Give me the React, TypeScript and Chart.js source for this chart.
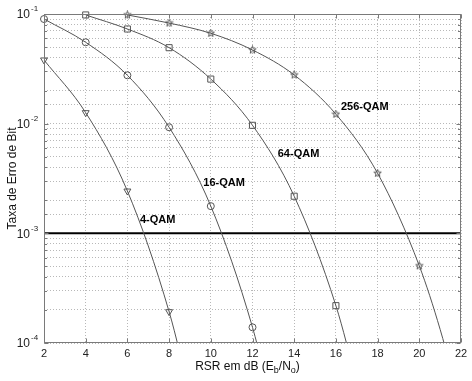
import React, { useEffect, useRef } from 'react';
import { Chart, registerables } from 'chart.js';

Chart.register(...registerables);

// ---- data ----
const snr4 = [2, 4, 6, 8, 9];
const ber4 = [0.0381, 0.0126, 0.00243, 0.000193, 0.000034];

const snr16 = [2, 4, 6, 8, 10, 12, 13];
const ber16 = [0.09, 0.0552, 0.0276, 0.00927, 0.00177, 0.000139, 0.000024];

const snr64 = [4, 6, 8, 10, 12, 14, 16, 17];
const ber64 = [0.098, 0.073, 0.0493, 0.0255, 0.00966, 0.00218, 0.000219, 0.000044];

const snr256 = [6, 8, 10, 12, 14, 16, 18, 20, 21, 22];
const ber256 = [0.098, 0.0827, 0.0667, 0.047, 0.0278, 0.0122, 0.00353, 0.000505, 0.000133, 0.000026];

const thresholdX = [2, 22];
const thresholdY = [1e-3, 1e-3];

const decadeValues = [1e-1, 1e-2, 1e-3, 1e-4];
const decadeExponents = ['-1', '-2', '-3', '-4'];

const curveLabels = ['4-QAM', '16-QAM', '64-QAM', '256-QAM'];
const curveLabelX = [6.6, 9.64, 13.21, 16.24];
const curveLabelY = [1.32e-3, 2.86e-3, 5.26e-3, 0.0143];

const xTitleParts = ['RSR em dB (E', 'b', '/N', 'o', ')'];
const xTitleSub = [false, true, false, true, false];
const yTitle = 'Taxa de Erro de Bit';

const FONT = '"Liberation Sans", Arial, Helvetica, sans-serif';
const CURVE = '#555555';

function toPoints(xs: number[], ys: number[]) {
  return xs.map((x, i) => ({ x, y: ys[i] }));
}
function markerRadii(xs: number[], ys: number[], r: number) {
  return xs.map((x, i) => (x % 2 === 0 && ys[i] >= 1e-4 && x <= 20 ? r : 0));
}

function makePentagram(size: number, color: string) {
  const c = document.createElement('canvas');
  c.width = size;
  c.height = size;
  const ctx = c.getContext('2d')!;
  const cx = size / 2;
  const cy = size / 2;
  const R = size / 2 - 0.6;
  const r = R * 0.42;
  ctx.beginPath();
  for (let i = 0; i < 10; i++) {
    const ang = -Math.PI / 2 + (i * Math.PI) / 5;
    const rad = i % 2 === 0 ? R : r;
    const px = cx + rad * Math.cos(ang);
    const py = cy + rad * Math.sin(ang);
    if (i === 0) ctx.moveTo(px, py);
    else ctx.lineTo(px, py);
  }
  ctx.closePath();
  ctx.strokeStyle = color;
  ctx.lineWidth = 1;
  ctx.stroke();
  return c;
}

const overlayPlugin = {
  id: 'overlay',
  afterDatasetsDraw(chart: any) {
    const ctx = chart.ctx as CanvasRenderingContext2D;
    const { left, right, top, bottom } = chart.chartArea;
    const xs = chart.scales.x;
    const ys = chart.scales.y;
    ctx.save();

    // axes box
    ctx.strokeStyle = '#7a7a7a';
    ctx.lineWidth = 1;
    const L = Math.round(left) + 0.5;
    const R = Math.round(right) - 0.5;
    const T = Math.round(top) + 0.5;
    const B = Math.round(bottom) - 0.5;
    ctx.strokeRect(L, T, R - L, B - T);

    // inward tick marks
    ctx.beginPath();
    xs.ticks.forEach((t: any) => {
      const px = Math.round(xs.getPixelForValue(t.value)) + 0.5;
      ctx.moveTo(px, B);
      ctx.lineTo(px, B - 4);
      ctx.moveTo(px, T);
      ctx.lineTo(px, T + 4);
    });
    ys.ticks.forEach((t: any) => {
      const py = Math.round(ys.getPixelForValue(t.value)) + 0.5;
      const len = t.major ? 4 : 2.5;
      ctx.moveTo(L, py);
      ctx.lineTo(L + len, py);
      ctx.moveTo(R, py);
      ctx.lineTo(R - len, py);
    });
    ctx.stroke();

    // curve labels
    ctx.fillStyle = '#000';
    ctx.font = `bold 11px ${FONT}`;
    ctx.textAlign = 'left';
    ctx.textBaseline = 'middle';
    curveLabels.forEach((lab, i) => {
      ctx.fillText(lab, xs.getPixelForValue(curveLabelX[i]), ys.getPixelForValue(curveLabelY[i]));
    });

    // y tick labels 10^n
    decadeValues.forEach((v, i) => {
      const py = ys.getPixelForValue(v);
      ctx.font = `12px ${FONT}`;
      ctx.textAlign = 'right';
      ctx.textBaseline = 'middle';
      ctx.fillStyle = '#222';
      const baseRight = left - 14;
      ctx.fillText('10', baseRight, py + 1);
      ctx.font = `8px ${FONT}`;
      ctx.textAlign = 'left';
      ctx.fillText(decadeExponents[i], baseRight + 1, py - 5);
    });

    // y title
    ctx.save();
    ctx.translate(13, (top + bottom) / 2);
    ctx.rotate(-Math.PI / 2);
    ctx.font = `12px ${FONT}`;
    ctx.textAlign = 'center';
    ctx.textBaseline = 'middle';
    ctx.fillStyle = '#111';
    ctx.fillText(yTitle, 0, 0);
    ctx.restore();

    // x title with subscripts
    const mainFont = `12px ${FONT}`;
    const subFont = `9px ${FONT}`;
    let total = 0;
    const widths = xTitleParts.map((p, i) => {
      ctx.font = xTitleSub[i] ? subFont : mainFont;
      const w = ctx.measureText(p).width;
      total += w;
      return w;
    });
    let cx = (left + right) / 2 - 5 - total / 2;
    const baseY = 370;
    ctx.textAlign = 'left';
    ctx.textBaseline = 'alphabetic';
    ctx.fillStyle = '#111';
    xTitleParts.forEach((p, i) => {
      ctx.font = xTitleSub[i] ? subFont : mainFont;
      ctx.fillText(p, cx, xTitleSub[i] ? baseY + 3 : baseY);
      cx += widths[i];
    });

    ctx.restore();
  },
};

export default function App() {
  const ref = useRef<HTMLCanvasElement | null>(null);

  useEffect(() => {
    if (!ref.current) return;
    const star = makePentagram(9, CURVE);
    const clip = { left: 6, top: 6, right: 6, bottom: 0 };
    const base = {
      borderColor: CURVE,
      borderWidth: 1,
      pointBorderColor: CURVE,
      pointBackgroundColor: 'rgba(0,0,0,0)',
      pointBorderWidth: 1,
      cubicInterpolationMode: 'monotone' as const,
      capBezierPoints: false,
      clip,
    };
    const chart = new Chart(ref.current, {
      type: 'line',
      data: {
        datasets: [
          {
            ...base,
            label: '4-QAM',
            data: toPoints(snr4, ber4),
            pointStyle: 'triangle',
            pointRotation: 180,
            pointRadius: markerRadii(snr4, ber4, 4),
          },
          {
            ...base,
            label: '16-QAM',
            data: toPoints(snr16, ber16),
            pointStyle: 'circle',
            pointRadius: markerRadii(snr16, ber16, 3.5),
          },
          {
            ...base,
            label: '64-QAM',
            data: toPoints(snr64, ber64),
            pointStyle: 'rect',
            pointRadius: markerRadii(snr64, ber64, 4.3),
          },
          {
            ...base,
            label: '256-QAM',
            data: toPoints(snr256, ber256),
            pointStyle: star as any,
            pointRadius: markerRadii(snr256, ber256, 4),
          },
          {
            label: 'limite',
            data: toPoints(thresholdX, thresholdY),
            borderColor: '#000',
            borderWidth: 2,
            pointRadius: 0,
            clip: { left: 0, top: 0, right: 2, bottom: 0 },
          },
        ] as any,
      },
      options: {
        animation: false,
        responsive: false,
        maintainAspectRatio: false,
        layout: { padding: { left: 44, top: 14, right: 11, bottom: 0 } },
        plugins: { legend: { display: false }, tooltip: { enabled: false } },
        scales: {
          x: {
            type: 'linear',
            min: 2,
            max: 22,
            ticks: {
              stepSize: 2,
              color: '#222',
              padding: 4,
              font: { family: FONT, size: 11 },
            },
            grid: { color: '#b8b8b8', lineWidth: 1, drawTicks: false },
            border: { display: false, dash: [1, 2] },
            afterFit: (s: any) => {
              s.height = 38;
            },
          },
          y: {
            type: 'logarithmic',
            min: 1e-4,
            max: 1e-1,
            ticks: { display: false },
            grid: { color: '#b8b8b8', lineWidth: 1, drawTicks: false },
            border: { display: false, dash: [1, 2] },
            afterFit: (s: any) => {
              s.width = 0;
            },
          },
        } as any,
      },
      plugins: [overlayPlugin],
    });
    return () => chart.destroy();
  }, []);

  return (
    <div style={{ position: 'fixed', left: 0, top: 0, width: 472, height: 381, background: '#fff' }}>
      <canvas ref={ref} width={472} height={381} style={{ display: 'block', width: 472, height: 381 }} />
    </div>
  );
}
